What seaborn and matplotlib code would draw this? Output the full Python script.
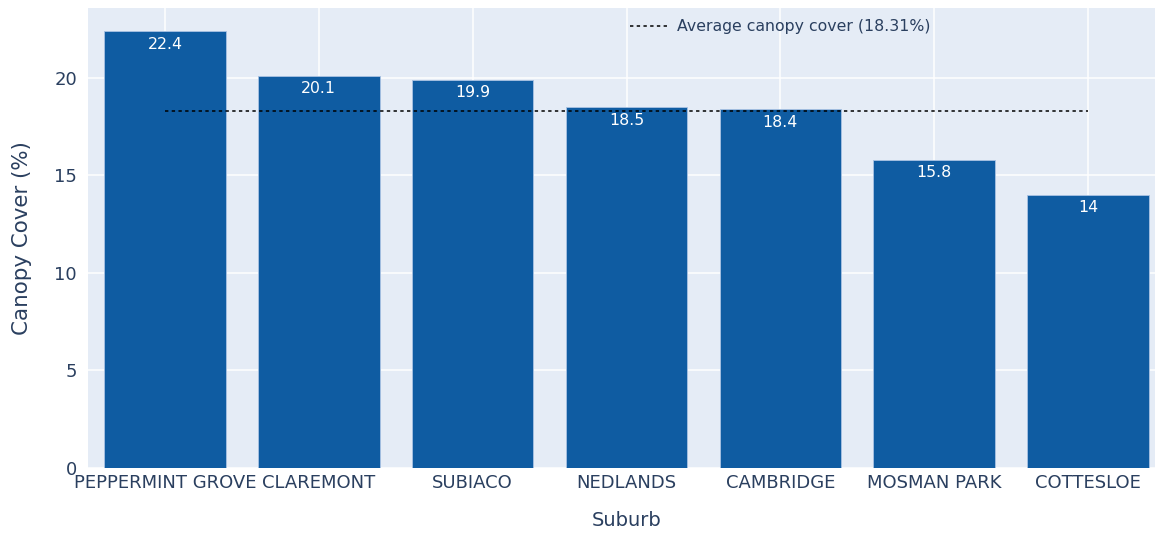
import matplotlib
matplotlib.use("Agg")
import matplotlib.pyplot as plt
import seaborn as sns
import pandas as pd
from matplotlib.lines import Line2D

# Canopy cover by suburb
suburbs = ["PEPPERMINT GROVE", "CLAREMONT", "SUBIACO", "NEDLANDS",
           "CAMBRIDGE", "MOSMAN PARK", "COTTESLOE"]
canopy = [22.4, 20.1, 19.9, 18.5, 18.4, 15.8, 14.0]
average_cover = 18.31
y_ticks = [0, 5, 10, 15, 20]

df = pd.DataFrame({"Suburb": suburbs, "Canopy Cover (%)": canopy})

sns.set_theme(style="darkgrid")
plt.rcParams["font.family"] = ["DejaVu Sans"]

text_col = "#2a3f5f"
bg_col = "#e5ecf6"
bar_col = "#0f5ca2"

fig = plt.figure(figsize=(11.55, 5.36), dpi=100)
fig.patch.set_facecolor("white")
ax = fig.add_axes([88 / 1155, 68 / 536, (1165 - 88) / 1155, 460 / 536])
ax.set_facecolor(bg_col)

sns.barplot(data=df, x="Suburb", y="Canopy Cover (%)", color=bar_col,
            saturation=1, width=0.79, edgecolor="#a9c3e3", linewidth=0.6,
            ax=ax, zorder=2)

for i, v in enumerate(canopy):
    ax.annotate(f"{v:g}", xy=(i, v), xytext=(0, -4), textcoords="offset points",
                ha="center", va="top", color="white", fontsize=11.3, zorder=4)

ax.hlines(average_cover, 0, len(suburbs) - 1, colors="black", linewidth=1.1,
          linestyles=(0, (2.2, 2.2)), zorder=3)

ax.set_xlim(-0.5, len(suburbs) - 0.5)
ax.set_ylim(0, 23.58)
ax.set_yticks(y_ticks)
ax.grid(True, color="white", linewidth=1.1)
ax.set_axisbelow(True)
for s in ax.spines.values():
    s.set_visible(False)

ax.tick_params(axis="both", length=0, colors=text_col, labelsize=13)
ax.tick_params(axis="y", pad=8)
ax.tick_params(axis="x", pad=4)
ax.set_xlabel("Suburb", fontsize=14, color=text_col, labelpad=14)
ax.set_ylabel("Canopy Cover (%)", fontsize=15.4, color=text_col, labelpad=16)

handle = Line2D([], [], color="black", linewidth=1.1, linestyle=(0, (2.2, 2.2)))
ax.legend([handle], [f"Average canopy cover ({average_cover:.2f}%)"],
          loc="center left", bbox_to_anchor=(630 / 1155, 1 - 27 / 536),
          bbox_transform=fig.transFigure, frameon=False, borderpad=0,
          borderaxespad=0, handlelength=2.4, handletextpad=0.6,
          prop={"size": 11.3}, labelcolor=text_col)

fig.savefig("out.png", dpi=100)
